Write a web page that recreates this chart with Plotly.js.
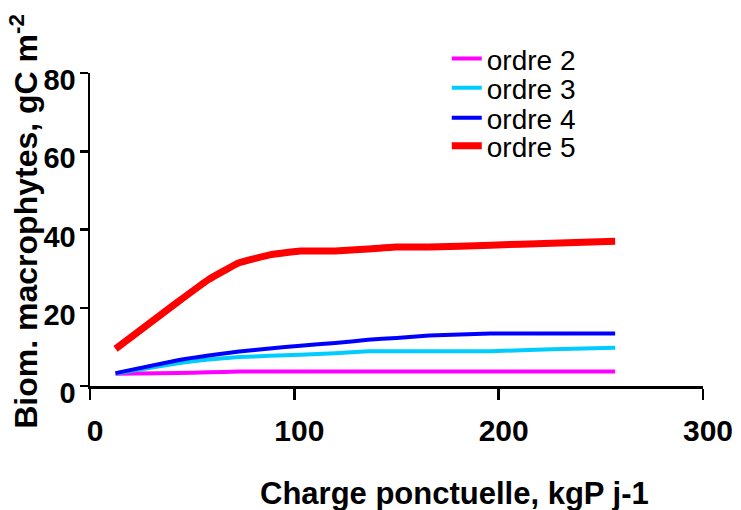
<!DOCTYPE html>
<html>
<head>
<meta charset="utf-8">
<script src="https://cdn.plot.ly/plotly-3.0.1.min.js"></script>
<style>html,body{margin:0;padding:0;background:#fff;}#chart{width:741px;height:510px;}</style>
</head>
<body>
<div id="chart"></div>
<script>
// Charge ponctuelle (kgP j-1)
const charge = [12.5, 43, 58, 73, 88, 103, 120, 136, 150, 166, 196, 226, 257];
// Biomasse macrophytes (gC m-2) per stream order
const ordre2 = [3.1, 3.3, 3.5, 3.7, 3.7, 3.7, 3.7, 3.7, 3.7, 3.7, 3.7, 3.7, 3.7];
const ordre3 = [3.2, 5.8, 6.8, 7.4, 7.7, 8.0, 8.4, 8.9, 8.9, 8.9, 8.9, 9.4, 9.8];
const ordre4 = [3.3, 6.6, 7.8, 8.8, 9.6, 10.3, 11.0, 11.8, 12.3, 12.9, 13.4, 13.4, 13.4];
const ordre5 = [9.5, 21.5, 27.2, 31.5, 33.5, 34.5, 34.5, 35.0, 35.5, 35.5, 36.0, 36.5, 37.0];
const seriesNames = ["ordre 2", "ordre 3", "ordre 4", "ordre 5"];
const xTicks = [0, 100, 200, 300];
const yTicks = [0, 20, 40, 60, 80];
const xTitle = "Charge ponctuelle, kgP j-1";
const yTitle = "Biom. macrophytes, gC m<sup>-2</sup>";

const colors = ["#FF00FF", "#00CCFF", "#0000FF", "#FF0000"];
const widths = [4, 4, 4, 7];
const values = [ordre2, ordre3, ordre4, ordre5];
const legendIds = ["legend", "legend2", "legend3", "legend4"];
const legendY = [1.045, 0.952, 0.856, 0.767];

const traces = values.map((v, i) => ({
  x: charge, y: v, type: "scatter", mode: "lines", name: seriesNames[i],
  legend: legendIds[i],
  line: {color: colors[i], width: widths[i], shape: "spline", smoothing: 0.3}
}));

const font = "Liberation Sans, Arial, sans-serif";
const layout = {
  width: 741, height: 510,
  margin: {l: 90, r: 38, t: 73, b: 124},
  paper_bgcolor: "#fff", plot_bgcolor: "#fff",
  showlegend: true,
  xaxis: {range: [0, 300], tickvals: xTicks, showgrid: false, zeroline: false,
    showline: true, linecolor: "#000", linewidth: 2.5,
    ticks: "outside", ticklen: 11, tickwidth: 2.5, tickcolor: "#000",
    ticklabelstandoff: 5, ticklabelshift: 5,
    tickfont: {family: font, size: 30, color: "#000", weight: "bold"}},
  yaxis: {range: [0, 80], tickvals: yTicks, showgrid: false, zeroline: false,
    showline: true, linecolor: "#000", linewidth: 2.5,
    ticks: "outside", ticklen: 8, tickwidth: 2.5, tickcolor: "#000",
    ticklabelstandoff: -2, ticklabelshift: 7,
    tickfont: {family: font, size: 29, color: "#000", weight: "bold"}},
  annotations: [
    {text: xTitle, xref: "paper", yref: "paper", x: 0.5954, y: -0.343,
     xanchor: "center", yanchor: "middle", showarrow: false,
     font: {family: font, size: 31, color: "#000", weight: "bold"}},
    {text: yTitle, xref: "paper", yref: "paper", x: -0.108, y: -0.142,
     xanchor: "center", yanchor: "bottom", textangle: -90, showarrow: false,
     font: {family: font, size: 32, color: "#000", weight: "bold"}}
  ]
};
legendIds.forEach((id, i) => {
  layout[id] = {x: 0.582, y: legendY[i], xanchor: "left", yanchor: "middle",
    font: {family: font, size: 28, color: "#000"}, bgcolor: "rgba(0,0,0,0)"};
});

Plotly.newPlot("chart", traces, layout, {displayModeBar: false, staticPlot: true});
</script>
</body>
</html>
